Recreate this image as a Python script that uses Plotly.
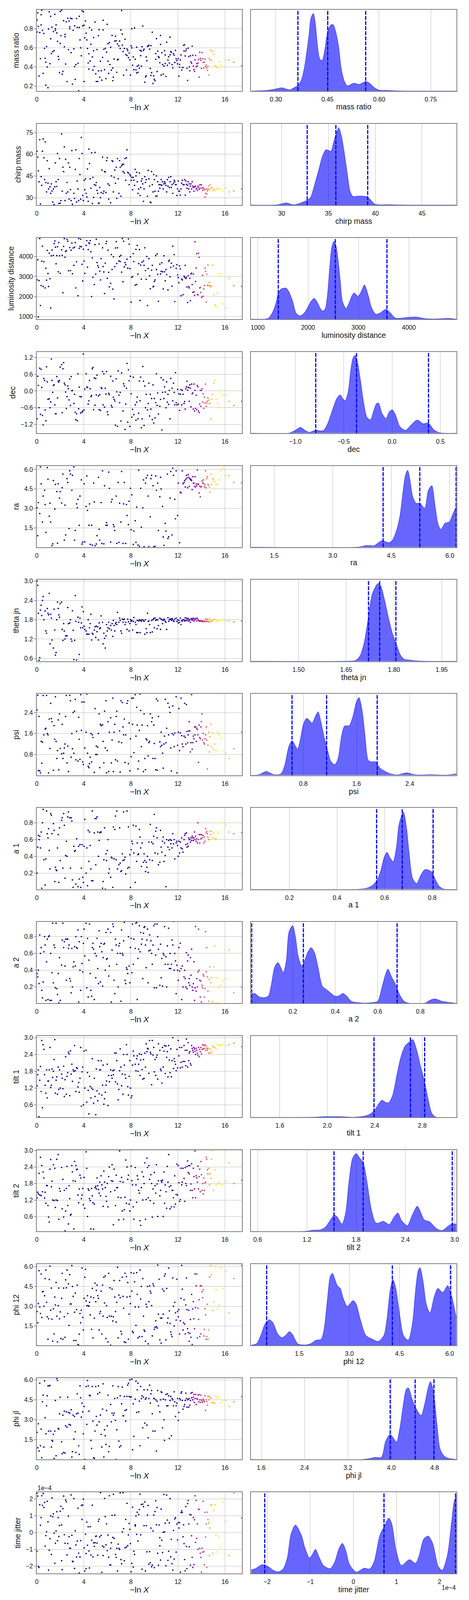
import plotly.graph_objects as go

# ---------- shared -ln X of the samples ----------
x_body = [
 0.02,0.08,0.13,0.19,0.25,0.31,0.37,0.42,0.48,0.54,0.60,0.66,0.71,0.77,0.83,0.89,0.95,
 1.00,1.06,1.12,1.18,1.24,1.29,1.35,1.41,1.47,1.53,1.58,1.64,1.70,1.76,1.82,1.87,1.93,1.99,
 2.05,2.11,2.16,2.22,2.28,2.34,2.40,2.45,2.51,2.57,2.63,2.69,2.74,2.80,2.86,2.92,2.98,
 3.03,3.09,3.15,3.21,3.27,3.32,3.38,3.44,3.50,3.56,3.61,3.67,3.73,3.79,3.85,3.90,3.96,
 4.02,4.08,4.14,4.19,4.25,4.31,4.37,4.43,4.48,4.54,4.60,4.66,4.72,4.77,4.83,4.89,4.95,
 5.01,5.06,5.12,5.18,5.24,5.30,5.35,5.41,5.47,5.53,5.59,5.64,5.70,5.76,5.82,5.88,5.93,5.99,
 6.05,6.11,6.17,6.22,6.28,6.34,6.40,6.46,6.51,6.57,6.63,6.69,6.75,6.80,6.86,6.92,6.98,
 7.04,7.09,7.15,7.21,7.27,7.33,7.38,7.44,7.50,7.56,7.62,7.67,7.73,7.79,7.85,7.91,7.96,
 8.02,8.08,8.14,8.20,8.25,8.31,8.37,8.43,8.49,8.54,8.60,8.66,8.72,8.78,8.83,8.89,8.95,
 9.01,9.07,9.12,9.18,9.24,9.30,9.36,9.41,9.47,9.53,9.59,9.65,9.70,9.76,9.82,9.88,9.94,9.99,
 10.05,10.11,10.17,10.23,10.28,10.34,10.40,10.46,10.52,10.57,10.63,10.69,10.75,10.81,10.86,10.92,10.98,
 11.04,11.10,11.15,11.21,11.27,11.33,11.39,11.44,11.50,11.56,11.62,11.68,11.73,11.79,11.85,11.91,11.97,
 12.03,12.08,12.14,12.20,12.26,12.32,12.37,12.43,12.48]
x_tail = [
 12.52,12.57,12.62,12.67,12.72,12.77,12.82,12.87,12.92,12.96,
 13.01,13.06,13.11,13.16,13.21,13.26,13.31,13.36,13.41,13.45,
 13.50,13.55,13.60,13.65,13.70,13.75,13.80,13.85,13.90,13.95,
 14.00,14.05,14.10,14.15,14.20,14.25,14.30,14.35,14.40,14.45,14.50,14.55,
 14.61,14.67,14.72,14.80,14.86,14.95,
 15.04,15.14,15.24,15.37,15.49,15.65,15.83,
 16.06,16.35,16.75,17.42]
shade_tail = [
 .08,.08,.09,.09,.10,.10,.11,.11,.12,.12,
 .14,.15,.16,.17,.18,.20,.22,.24,.26,.27,
 .29,.30,.31,.33,.34,.35,.36,.38,.39,.40,
 .42,.44,.46,.48,.50,.52,.54,.56,.58,.60,.62,.64,
 .74,.76,.78,.82,.84,.86,
 .90,.92,.94,.97,.98,1.0,1.0,
 .95,.84,.70,.55]

# ---------- trace values, one list per parameter ----------
mass_ratio_body = [
 .765,.89,.967,.824,.305,.76,.487,.946,.84,.993,.783,.333,.75,.595,.49,.21,.45,.614,
 .40,.183,.796,.977,.434,.93,.695,.54,.816,.56,.77,.57,.95,.80,.783,.84,.756,.668,.51,.478,
 .34,.647,.98,.727,.993,.324,.353,.884,.611,.716,.741,.43,.873,.247,.91,.58,.88,.82,.80,
 .91,.55,.904,.22,.783,.59,.404,.83,.27,.424,.906,.813,.438,.15,.93,.813,.683,.6,.517,
 .987,.83,.977,.248,.836,.705,.882,.753,.683,.593,.442,.378,.538,.812,.462,.638,.787,.505,
 .368,.708,.569,.406,.87,.328,.248,.582,.248,.727,.359,.79,.292,.46,.361,.262,.50,.787,
 .888,.585,.372,.595,.278,.555,.846,.644,.46,.332,.655,.425,.606,.367,.73,.256,.388,.292,
 .482,.671,.722,.673,.344,.474,.64,.48,.62,.67,.593,.787,.99,.628,.744,.562,.313,.593,.69,
 .53,.369,.52,.588,.572,.498,.546,.474,.315,.62,.6,.80,.418,.505,.372,.808,.48,.37,.337,
 .607,.408,.344,.418,.386,.573,.518,.566,.408,.612,.828,.573,.586,.24,.295,.307,.505,.465,
 .615,.618,.627,.586,.384,.622,.312,.34,.763,.227,.307,.27,.256,.48,.54,.696,.352,.565,
 .509,.498,.445,.73,.636,.315,.549,.425,.325,.409,.57,.437,.525,.301,.659,.417,.472,.507,
 .441,.527,.711,.56,.554,.424,.39,.54,.523,.447,.447,.573,.486,.467,.432,.487,.304,.426,.397,.473,.525,.369,.394,.394,.627]
mass_ratio_tail = [
 .567,.632,.515,.567,.587,.385,.259,.597,.509,.402,
 .361,.517,.453,.438,.617,.522,.41,.373,.353,.473,
 .52,.402,.434,.41,.441,.477,.293,.554,.49,.47,
 .385,.55,.486,.447,.389,.452,.481,.404,.42,.389,.364,.406,
 .317,.49,.473,.577,.469,.562,
 .53,.414,.41,.39,.454,.418,.40,
 .472,.474,.45,.412]
chirp_mass_body = [
 62,58,48.5,41,70,25.7,44.5,38.5,62,70.5,57.5,42.5,68.5,40.5,34,55.5,40,36,50,
 37.5,33,39.5,34.6,27,36,25.3,37.5,54,41,37.8,60.5,42.5,26,57,26.2,28,74,
 34.5,51,48,65,28,56.5,33,40.5,34,54,29,51,35.5,28,62.5,25.5,33,29.5,
 49.5,63,27,41.5,36,28,57,46,29,71.5,60.5,31.5,28,42,35.5,43,33,
 30.5,49.8,27.5,63.5,53.5,43,36.5,61,26,44,30.2,39,61.2,38.5,40.5,35,33,
 26.2,26.2,37,30,33.5,49,58,33,34.5,48,47.8,33.5,55.5,57.5,39.5,29,38.5,26.5,45,55.5,55,34,44,
 49,40,51,29.5,57,43,33,55.5,51,31,52,53,48,53,47,57,42,57.5,63,
 47.5,47,39,46,45,42,44,35.5,44,42,38.5,49.5,45,47.5,41,33,36,
 47,31.5,37,41.5,43,39.5,27.5,36,44.5,40.5,42.5,31,48.8,43,38,27,26.5,48,
 39,34,46,42.5,34.5,31,45,31.2,41,34.5,39,36.5,39,42.5,38.5,41,36,
 39.5,41,40,38.5,34,42.5,38,44,37,41,44.5,37,39,33,40,42,41,
 39,39,31.5,36,41.5,34.5,34.5,31.8,36,40,42,39]
chirp_mass_tail = [
 39,42.5,31.7,41.5,39.2,36.5,38.5,41,36,39.5,
 34,38,39.5,36,41,38,37,34.5,37.5,38,
 37.8,36,36.5,35,38,37,35.8,38.8,36.5,39,
 38.8,36.6,35,37,36,35.5,30.5,33,36,32.5,34.8,36,
 38,35.5,39,36.5,37,35,
 36,35,36.3,35.7,36.5,35.7,34.5,
 36.7,34,34.7,36]
luminosity_distance_body = [
 2840,3840,980,2800,4900,1550,2550,3770,4520,2500,3740,2430,
 3410,2820,4310,3150,2500,4170,2890,1430,4040,4330,4060,4650,
 4780,4470,3640,4050,4490,3240,4700,4040,3160,4340,4060,2190,
 4510,4900,3970,4250,4300,4860,4770,3290,4450,3300,4320,4670,
 3140,4430,3560,4470,4700,2430,3740,2040,4900,4410,4510,4870,
 4490,3610,2780,4370,3770,3160,4560,4800,3470,4350,4690,4650,
 4800,4240,2000,3940,2960,2600,4600,3120,4870,3700,3550,3460,
 4630,3270,2830,3900,4440,3500,3230,2150,3670,4650,4760,2910,
 4320,3210,2480,2660,4100,3350,2370,3990,1880,3500,4430,4750,
 3650,4440,3780,4000,3750,4060,3220,4900,2740,4770,3480,3700,
 3590,3870,3420,4880,4620,3400,3990,1720,2960,3000,4150,3750,
 2570,4360,2600,4560,3120,3650,4350,1800,3570,2870,3720,3780,
 3560,4440,3300,2860,4000,1550,3400,3900,3040,2390,3320,3560,
 2490,2510,2750,2830,4050,3350,4130,3110,1760,3620,3130,3260,
 3690,3240,2380,4040,3240,2790,3350,3100,2330,3760,3820,2990,
 3460,3670,2520,4520,3530,4100,1750,3410,3590,3080,2950,2690,
 3530,3380,2040,2880,2830,2090]
luminosity_distance_tail = [
 3020,2960,3560,2900,2960,2470,1700,3040,2500,2430,
 2910,1790,3130,3170,2600,2210,3120,2230,2060,4740,
 2750,3430,4140,2100,2080,4170,3960,2430,2450,2200,
 1960,1970,3060,2010,2380,2550,3430,3260,1720,3110,2560,3570,
 2550,2700,2550,2480,2520,3570,
 2090,1580,1510,2170,3140,3140,1640,
 1410,2910,2540,2520]
dec_body = [
 -1.0,.53,.2,-.6,.82,-.84,.78,.13,-.88,-1.22,.45,.38,
 -.68,-1.07,.87,.33,-.3,-.28,-.6,-.39,1.15,.38,-.05,.2,
 .22,-.5,-.82,-.82,.52,-.25,.35,.32,.38,.86,.95,-.78,
 .8,1.02,.28,.22,-.04,-.63,-.2,.18,.08,-.32,.43,-.52,
 .52,.01,.02,-.45,-.12,-.76,-1.03,-.82,-1.07,.62,-.64,.14,
 -.2,-.79,-.21,-.76,-.72,1.33,-.68,.07,.62,.14,.13,-.47,
 -.35,.38,.08,-.2,-.16,.8,.85,-.67,.47,-.51,.45,-.14,
 .57,-.18,-.67,-.13,-.7,.12,.09,.7,-.5,.62,-.58,.1,
 -.11,.7,-.75,-.85,-.08,-.13,.53,-.52,-.58,.36,-.22,-.3,
 -.36,-1.23,.44,-.03,-1.27,.72,-.15,-.42,-.05,-1.08,.65,-.72,
 .26,.18,-1.38,-.47,.1,.99,-1.12,.76,.37,-1.27,.53,-.1,
 -.94,-.66,.5,-.85,-.5,-1.05,-.4,-.22,-1.0,-.8,.36,-.35,
 .5,-1.32,-1.0,.88,.35,-1.24,.18,-.6,-.12,-.68,-.45,.28,
 -.9,-.12,-.65,-.27,-1.03,.22,-1.15,-.27,-.97,-.42,.62,-.52,
 -.07,-.83,-.55,-.3,.48,-1.4,-.05,.4,-.27,.15,-.04,-.6,
 .33,-.4,-.12,-.48,.02,-1.0,.45,.1,-.35,.28,-.05,-.5,
 .66,-.42,-.5,.06,-.47,-.1,-.7,-.12,.05,-.5,.02,-.12]
dec_tail = [
 -.45,-.38,-.65,.08,.15,.35,.03,.13,.12,-.37,
 .22,.1,-.57,.25,-.1,-.07,-.65,.25,-.72,.02,
 -.63,-.15,-.67,.2,.15,-.72,-.78,-.47,.02,-.55,
 .02,.08,-.4,-.1,-.63,-.22,-.43,.25,-.55,-.43,-.37,-.25,
 -.33,-.45,-.45,-1.0,-.3,-.12,
 .28,.38,-.3,-.43,-.6,.0,-.15,
 -.15,-.38,-.52,-.37]
ra_body = [
 3.05,.9,3.45,2.6,6.2,4.9,1.95,3.95,4.4,3.3,1.15,6.15,
 5.25,2.4,3.4,1.95,.12,.27,5.15,2.95,4.85,4.3,.32,4.9,
 3.8,4.3,3.42,4.6,5.65,.55,3.25,.95,5.3,5.0,1.45,5.9,
 5.65,4.4,5.55,6.2,.55,1.3,3.35,3.05,3.7,1.7,3.95,5.2,
 .25,.4,4.9,.42,3.15,5.5,2.85,1.7,3.35,.22,1.7,.17,
 4.95,3.5,.12,.25,.9,5.4,1.4,.55,3.45,.3,5.9,.27,
 4.75,1.7,1.9,1.7,5.8,4.55,.4,3.5,3.7,1.75,1.6,1.3,
 3.95,.3,5.0,.38,3.4,1.95,5.85,.3,3.35,5.0,.3,3.3,
 2.45,1.75,3.55,4.55,1.35,4.05,.22,1.25,2.05,.38,3.1,.18,
 5.95,.08,4.55,1.55,3.05,5.2,.05,4.95,5.35,5.55,3.95,.06,
 2.35,5.3,5.55,4.75,.05,.07,5.5,4.4,4.95,1.3,3.9,5.4,
 4.5,3.15,.8,.15,1.85,1.25,5.65,.68,.82,3.8,5.85,.95,
 6.1,5.55,3.7,2.2,5.9,2.45,4.95,.35,4.25,4.2,5.9,4.9]
ra_tail = [
 5.0,5.15,4.65,5.25,5.55,5.35,4.6,5.6,5.4,4.7,
 5.3,5.2,5.25,5.15,4.45,5.45,4.95,4.95,4.7,5.45,
 4.65,4.88,4.75,5.97,4.9,4.85,4.2,4.7,3.9,4.65,
 4.7,5.1,4.95,5.2,4.92,4.65,4.8,5.9,4.6,5.3,5.45,4.85,
 4.8,4.65,4.25,5.65,4.85,5.3,
 5.2,5.05,4.85,4.85,5.2,5.9,6.15,
 5.55,5.5,5.0,4.98]
theta_jn_body = [
 3.0,2.87,2.0,.54,.62,2.1,2.25,1.93,2.4,2.52,1.8,2.07,
 1.45,1.38,2.15,2.0,1.95,2.62,1.05,1.97,1.85,1.17,.92,2.13,
 1.48,.7,.78,1.8,2.35,2.15,1.95,1.88,2.3,2.35,1.5,1.16,
 1.68,1.45,1.2,1.3,1.3,1.3,2.18,1.68,1.7,1.8,1.2,1.13,
 2.08,1.47,.56,1.16,2.55,1.75,.55,1.88,1.72,.72,1.85,1.55,
 1.7,2.2,1.55,2.05,1.6,1.5,1.45,1.35,1.35,1.8,1.35,1.55,
 1.68,1.97,1.17,1.38,1.35,1.48,1.58,1.25,1.6,1.43,1.58,1.17,
 1.7,1.52,1.55,1.92,1.72,1.05,1.38,1.22,.92,1.3,1.65,1.45,
 1.55,1.72,1.52,1.62,1.48,1.68,1.28,1.78,1.62,1.45,1.68,1.72,
 1.65,2.03,1.72,1.85,1.78,1.45,1.38,1.82,1.72,1.8,1.82,1.65,
 1.72,1.5,1.82,1.74,1.45,1.68,1.8,1.75,1.78,1.48,1.75,1.87,
 1.72,1.65,1.4,1.78,1.4,1.76,1.8,1.4,1.78,1.75,1.8,1.78,
 1.75,1.35,1.8,1.52,1.4,2.0,1.75,1.76,1.65,1.4,1.78,1.42,
 1.8,1.84,1.55,1.85,1.78,1.8,1.52,1.8,1.62,1.85,1.5,1.82,
 1.8,1.68,1.78,1.82,1.8,1.75,1.72,1.5,1.86,1.75,1.8,1.82,
 1.82,1.78,1.84,1.8,1.76,1.75,1.82,1.85,1.75,1.8,1.7,1.78,
 1.72,1.85,1.65,1.78,1.75,1.8]
theta_jn_tail = [
 1.8,1.76,1.86,1.78,1.85,1.77,1.82,1.84,1.76,1.8,
 1.79,1.72,1.82,1.84,1.78,1.82,1.85,1.76,1.8,1.83,
 1.82,1.84,1.76,1.85,1.8,1.78,1.76,1.75,1.77,1.76,
 1.75,1.76,1.74,1.76,1.75,1.74,1.75,1.82,1.76,1.74,1.82,1.75,
 1.73,1.82,1.74,1.75,1.76,1.78,
 1.8,1.82,1.75,1.78,1.75,1.79,1.78,
 1.78,1.77,1.73,1.76]
psi_body = [
 2.5,3.06,.19,2.25,.18,.1,1.3,.47,1.27,3.05,1.55,1.77,
 1.8,3.05,1.6,1.55,.1,2.15,1.03,2.75,2.17,2.05,.2,1.9,
 1.38,3.0,1.3,.65,.95,2.12,.22,2.35,1.03,.83,1.95,.65,
 .85,1.05,1.2,2.25,3.05,.48,1.12,.15,3.06,2.85,.7,1.6,
 1.02,2.4,.85,2.45,2.9,.6,1.68,.55,2.22,1.38,.62,3.08,
 1.72,2.8,.52,.42,2.8,1.05,1.65,3.1,.85,.35,.3,.45,
 .7,1.6,.52,1.55,1.45,.12,2.55,.8,1.12,.8,1.08,1.6,
 2.35,.3,1.95,1.9,1.93,1.3,.48,2.45,1.05,2.85,.1,.95,
 2.05,.15,1.65,2.2,.48,1.35,2.95,.15,1.65,1.95,.6,2.25,
 2.45,.55,1.28,1.7,.13,2.85,1.25,2.78,1.85,1.55,2.15,.5,
 1.55,2.75,2.85,.45,2.0,.18,1.4,.72,2.95,1.95,2.95,.87,
 3.08,1.5,2.6,1.92,.25,.55,1.72,3.1,2.48,1.1,1.92,.15,
 2.35,.65,.22,1.4,1.35,1.9,.75,1.25,1.3,2.35,2.05,2.2,
 .65,1.92,1.22,.65,.22,2.92,.2,2.85,2.25,1.28,1.1,1.65,
 1.15,.85,.28,1.2,1.5,2.9,1.25,1.8,2.75,1.55,2.6,2.4,
 1.05,.17,1.6,2.65,1.55,1.1,1.62,3.0,.1,1.15,1.65,2.55,
 .95,1.62,2.95,1.52,1.2,1.1]
psi_tail = [
 1.5,2.75,1.45,1.2,2.7,1.68,1.25,1.55,1.7,2.05,
 1.7,.9,1.25,3.08,1.0,1.25,1.5,1.4,1.85,1.55,
 1.85,1.3,1.8,1.75,1.55,.5,1.92,1.45,1.4,1.85,
 2.05,2.35,1.35,1.6,1.25,1.2,1.4,1.55,1.85,1.35,.25,1.15,
 1.65,.9,1.48,1.95,1.1,1.62,
 1.0,1.2,.95,1.65,1.55,1.42,.9,
 .85,.65,1.02,1.65]
a_1_body = [
 .2,.51,.65,.6,.64,.5,.69,.02,.8,.96,.36,.06,
 .37,.94,.67,.62,.73,.47,.25,.91,.89,.67,.79,.71,
 .1,.27,.24,.23,.5,.66,.09,.74,.35,.83,.86,.26,
 .91,.77,.14,.41,.58,.4,.87,.93,.86,.26,.86,.82,
 .12,.03,.52,.46,.47,.07,.61,.04,.52,.13,.54,.03,
 .26,.54,.15,.09,.52,.84,.2,.5,.05,.71,.34,.69,
 .53,.25,.11,.94,.11,.68,.85,.3,.85,.87,.69,.4,
 .59,.68,.69,.69,.02,.1,.36,.74,.01,.43,.35,.47,
 .6,.2,.25,.15,.39,.38,.03,.75,.37,.72,.88,.36,
 .94,.25,.3,.74,.32,.22,.23,.43,.35,.93,.36,.39,
 .19,.94,.26,.75,.27,.42,.03,.48,.58,.55,.77,.44,
 .09,.76,.34,.56,.42,.43,.72,.63,.5,.28,.56,.33,
 .43,.35,.22,.33,.27,.4,.21,.57,.36,.78,.57,.35,
 .55,.64,.9,.44,.7,.74,.62,.43,.3,.33,.71,.51,
 .45,.58,.63,.34,.56,.41,.04,.6,.51,.59,.48,.6,
 .55,.59,.5,.67,.55,.6,.37,.56,.58,.53,.4,.58,
 .44,.57,.5,.62,.49,.45]
a_1_tail = [
 .6,.65,.67,.54,.68,.51,.55,.52,.62,.6,
 .6,.57,.62,.59,.64,.62,.59,.62,.69,.6,
 .64,.58,.61,.56,.8,.6,.66,.56,.66,.61,
 .66,.62,.65,.65,.56,.63,.58,.73,.68,.7,.67,.63,
 .6,.6,.7,.66,.7,.62,
 .68,.61,.61,.67,.69,.8,.8,
 .77,.69,.67,.68]
a_2_body = [
 .36,.32,.4,.24,.82,.6,.67,.16,.07,.26,.62,.8,
 .7,.04,.5,.77,.05,.8,.81,.04,.6,.04,.37,.96,
 .25,.7,.67,.19,.96,.18,.11,.36,.01,.55,.04,.46,
 .76,.96,.67,.74,.45,.77,.28,.77,.77,.66,.7,.3,
 .27,.13,.66,.2,.44,.5,.68,.45,.8,.67,.66,.88,
 .02,.74,.4,.16,.8,.48,.38,.72,.89,.57,.96,.19,
 .78,.08,.52,.95,.36,.16,.09,.67,.72,.65,.05,.6,
 .31,.57,.78,.42,.24,.87,.68,.26,.72,.62,.21,.55,
 .71,.72,.4,.85,.53,.54,.89,.33,.45,.85,.02,.64,
 .95,.92,.28,.12,.77,.7,.47,.6,.2,.69,.72,.6,
 .03,.88,.6,.58,.75,.97,.28,.24,.43,.41,.36,.8,
 .45,.25,.67,.78,.37,.95,.47,.77,.66,.96,.97,.05,
 .54,.65,.93,.62,.85,.71,.77,.3,.84,.91,.92,.7,
 .43,.76,.89,.25,.63,.82,.64,.75,.6,.47,.7,.93,
 .19,.95,.58,.19,.95,.8,.65,.22,.71,.31,.54,.21,
 .6,.58,.92,.47,.56,.2,.69,.47,.9,.42,.6,.42,
 .47,.76,.7,.98,.4,.6,.51,.12,.46,.4,.28,.67,
 .39,.72,.42,.05,.45,.2]
a_2_tail = [
 .32,.4,.3,.2,.61,.18,.51,.58,.25,.3,
 .22,.55,.34,.65,.2,.16,.24,.5,.04,.19,
 .92,.15,.3,.2,.38,.89,.4,.28,.08,.27,
 .02,.22,.19,.35,.33,.08,.18,.86,.38,.67,.32,.15,
 .03,.29,.44,.25,.31,.02,
 .44,.69,.31,.01,.19,.22,.27,
 .3,.64,.13,.2]
tilt_1_body = [
 1.28,1.68,1.85,.18,1.48,1.97,1.08,2.9,.5,2.75,2.58,1.68,
 1.3,1.02,1.85,.85,1.45,1.45,1.85,2.65,1.22,1.3,1.88,1.58,
 1.8,2.22,2.93,1.02,1.48,1.6,.98,1.95,1.15,1.85,1.2,1.7,
 1.55,1.18,1.98,.9,1.5,2.32,.98,1.62,1.75,2.48,2.42,.93,
 2.53,1.7,2.05,1.44,1.85,1.8,2.72,1.82,1.08,1.93,1.9,1.24,
 1.4,1.05,1.55,2.65,.55,1.78,1.95,.6,2.52,1.2,2.55,.7,
 1.75,1.12,.28,1.62,1.26,.85,1.2,2.25,1.15,.66,1.55,.9,
 .25,1.88,1.1,.75,2.18,1.0,1.85,1.85,2.18,.95,1.3,2.02,
 .62,.82,1.05,1.3,1.45,2.05,.58,1.65,1.43,1.85,1.65,1.55,
 1.82,1.68,1.85,2.45,1.42,2.45,2.18,1.35,.78,1.15,1.82,2.6,
 1.95,1.28,1.7,.98,2.4,2.02,1.68,1.55,2.75,2.4,1.25,.95,
 1.62,2.18,1.2,.85,.92,2.02,2.52,2.35,2.05,1.82,2.25,2.35,
 1.8,2.05,2.42,1.65,2.2,2.4,1.86,1.52,2.22,1.55,2.45,1.95,
 2.78,2.5,2.62,2.6,1.73,2.9,2.48,2.42,1.32,2.9,2.38,2.65,
 1.78,2.22,1.65,2.3,2.38,1.52,2.78,2.55,1.88,1.82,1.38,2.65,
 1.95,2.52,2.72,1.72,2.7,2.3,2.5,1.6,2.72,2.2,1.75,2.6,
 1.6,2.18,3.0,1.9,2.25,2.15,2.05,1.82,2.58,1.92,2.9,2.35,
 2.65,1.92,2.12,2.65,1.95,2.15]
tilt_1_tail = [
 2.72,2.15,2.55,2.0,2.95,2.55,1.95,2.82,2.18,2.45,
 2.5,2.08,2.02,2.72,2.62,2.55,2.48,2.65,2.6,2.52,
 2.4,2.62,2.55,2.45,2.38,2.65,2.32,2.58,2.5,2.65,
 2.42,2.58,2.75,2.6,2.72,2.62,2.75,2.55,2.7,2.62,2.55,2.62,
 2.45,2.45,2.6,2.45,2.5,2.7,
 2.65,2.65,2.6,2.75,2.72,2.72,2.75,
 2.72,2.75,2.8,2.68]
tilt_2_body = [
 1.28,1.48,1.42,2.17,1.38,2.75,1.36,2.45,1.5,2.22,2.0,1.27,
 1.48,1.08,1.73,1.72,1.0,.58,.4,2.32,2.67,1.68,1.88,1.2,
 2.48,1.18,2.35,.93,1.2,2.68,1.18,2.85,.5,1.62,1.52,2.38,
 .88,1.95,.58,1.55,.08,.8,1.62,2.42,1.0,.33,1.72,1.25,
 .65,.68,2.45,2.22,1.9,.15,2.6,1.88,2.45,2.3,2.32,1.38,
 1.1,1.6,2.1,2.0,1.25,1.38,1.62,1.03,2.02,.9,2.95,2.35,
 .6,1.6,1.55,1.25,1.18,.15,1.62,1.35,1.1,.14,1.05,1.65,
 1.7,1.6,2.0,1.72,1.58,1.45,1.85,1.35,2.08,1.75,1.6,.97,
 2.25,1.85,1.65,1.33,1.15,1.8,.95,2.05,2.4,1.5,1.9,2.48,
 1.88,.3,2.32,1.55,1.0,2.1,1.65,1.65,1.3,.48,2.98,1.87,
 1.28,2.02,.8,1.85,.5,.85,1.3,2.65,1.08,2.4,1.95,2.1,
 1.05,.8,1.2,2.43,1.9,1.75,.95,.5,2.38,1.75,1.12,2.08,
 1.95,1.55,1.45,.45,.28,1.65,2.22,1.2,2.05,1.8,2.55,.5,
 1.22,2.72,2.38,1.28,2.45,1.95,1.18,2.12,1.8,.58,1.6,1.08,
 2.2,1.72,1.45,2.48,1.78,.6,1.9,1.35,1.55,1.9,1.85,1.92,
 .6,2.22,1.08,1.75,1.5,.9,2.42,1.85,2.85,1.68,.88,1.72,
 .95,1.55,1.55,1.28,.95,2.08,1.05,1.4,2.5,1.38,2.45,1.83,
 1.15,1.22,2.35,1.75,1.85,2.35]
tilt_2_tail = [
 1.98,1.15,2.38,1.8,1.72,2.42,2.62,2.2,2.45,2.15,
 2.45,1.55,1.78,2.52,1.55,1.28,2.35,2.05,1.6,2.98,
 1.28,2.08,2.0,1.85,2.43,1.6,2.05,2.32,1.5,2.6,
 2.12,1.55,1.8,1.42,2.0,1.55,1.82,1.85,2.75,2.68,2.3,2.15,
 2.35,1.75,2.15,1.98,2.68,3.0,
 1.55,2.3,1.75,1.8,1.85,1.75,1.75,
 1.88,2.55,1.8,1.92]
phi_12_body = [
 2.6,1.75,3.2,5.7,2.95,2.45,5.45,2.15,4.1,4.12,3.0,3.8,
 5.1,5.75,3.3,2.2,.5,2.05,5.03,6.05,2.7,4.38,2.02,.35,
 2.8,.9,3.7,3.1,4.8,2.25,.3,3.05,4.38,2.05,2.57,.55,
 3.6,5.5,.5,4.38,2.2,.65,5.0,4.4,5.75,2.45,4.7,1.55,
 5.4,3.17,3.17,6.08,4.5,3.75,.4,2.55,4.0,.4,2.75,4.6,
 .1,.05,.88,2.45,1.75,2.7,5.9,2.15,1.2,3.6,5.2,5.8,
 3.4,3.05,3.8,3.05,3.0,3.3,2.35,3.7,1.25,4.35,.6,3.65,
 2.1,4.75,3.35,4.2,4.6,3.8,3.6,1.2,2.45,2.6,4.15,.9,
 4.6,2.25,5.2,3.25,5.3,.55,3.05,2.15,.3,5.5,2.25,4.4,
 .05,2.25,4.3,1.88,2.2,4.95,3.7,2.6,1.8,3.3,5.95,.6,
 3.85,4.95,3.65,1.1,.9,5.2,3.75,2.85,.3,5.5,.25,5.25,
 3.7,4.8,.5,2.4,3.75,3.2,5.55,4.15,1.1,1.0,5.5,4.85,
 2.95,1.55,5.55,3.9,.6,2.95,.7,5.75,3.55,4.5,.7,5.1,
 2.25,1.2,1.1,.35,3.15,2.95,4.5,.15,3.35,4.55,4.15,4.0,
 3.05,.75,4.7,4.55,1.25,1.4,1.9,1.45,1.35,6.12,2.4,5.05,
 .45,2.1,.2,2.1,4.3,2.4,4.15,5.3,5.45,.45,4.35,1.75,
 2.1,5.9,2.65,1.7,1.05,.85,.7,5.15,3.0,1.5,3.3,2.5,
 1.95,5.05,2.6,2.2,2.75,.9,1.9,3.6,6.1,4.3,1.2,1.75]
phi_12_tail = [
 3.5,1.65,.9,3.1,5.15,2.75,1.3,1.0,2.7,.35,
 .95,2.0,.65,3.9,.1,2.8,3.35,2.05,1.3,5.45,
 2.9,4.55,5.45,.6,2.85,2.0,3.5,.7,4.55,.9,
 4.55,4.1,3.65,4.25,.75,1.25,2.8,2.35,.5,.7,3.15,.5,
 1.2,5.25,5.2,6.1,5.4,2.7,
 3.3,6.02,4.25,2.8,3.1,5.9,4.35,
 5.65,2.5,5.1,6.1]
phi_jl_body = [
 2.05,.9,2.7,.65,5.75,1.05,2.3,.15,4.35,4.85,.95,5.92,
 3.15,1.95,4.05,4.8,5.55,2.15,5.55,5.58,2.15,.95,1.45,1.4,
 1.9,.1,2.15,4.45,.3,6.1,5.95,2.35,2.3,3.45,4.7,1.35,
 .45,3.35,.55,3.65,.5,2.55,3.6,2.45,4.7,3.55,2.65,3.5,
 2.6,3.75,.2,.6,3.35,1.55,3.25,2.1,.55,3.45,4.95,3.5,
 1.05,.4,5.55,4.65,3.2,4.25,3.6,1.95,4.0,.02,5.5,2.65,
 5.95,5.55,3.65,4.85,4.8,1.45,.85,5.5,2.9,.15,.1,2.15,
 5.5,3.25,2.6,4.95,5.55,2.85,5.05,3.35,1.9,.95,3.8,5.7,
 .2,2.25,1.8,1.15,3.7,2.55,4.85,.6,1.0,4.15,2.85,3.5,
 5.55,3.35,3.5,4.6,2.95,.02,2.25,4.65,5.5,1.4,.95,4.8,
 1.05,4.2,5.45,3.3,3.3,4.75,3.7,2.9,3.75,4.75,5.6,5.75,
 4.75,6.0,4.7,4.72,6.05,.75,4.2,1.75,4.55,5.9,3.55,5.25,
 5.75,3.6,4.4,1.05,5.5,4.6,4.8,2.4,4.7,5.25,2.75,4.55,
 4.65,2.6,5.25,1.65,4.6,5.6,4.25,4.95,5.2,3.45,2.15,4.6,
 4.6,2.15,4.5,.65,4.4,5.2,4.05,3.6,4.5,5.1,5.05,2.4,
 4.55,3.0,1.45,4.5,4.9,4.05,4.95,4.05,4.8,1.6,4.45,4.75,
 1.8,4.6,4.5,4.05,5.1,4.35,3.25,4.05,4.25,4.6,2.95,3.55,
 4.6,4.5,5.0,5.1,4.45,3.8]
phi_jl_tail = [
 4.0,4.15,4.45,5.0,4.6,3.95,4.5,4.55,3.95,4.6,
 4.1,4.45,5.0,4.65,5.05,4.5,4.7,4.9,4.3,4.6,
 4.9,4.15,4.6,4.55,4.85,4.35,4.9,4.5,4.3,4.85,
 4.5,4.4,4.3,4.55,4.45,4.35,4.8,3.7,4.5,4.35,4.1,4.75,
 4.5,4.78,4.6,4.7,4.3,4.28,
 4.25,4.25,4.75,4.6,4.72,4.3,4.45,
 4.45,4.0,4.35,4.75]
time_jitter_body = [
 2.35,-1.1,2.18,-2.0,-2.07,1.67,.44,.9,2.2,1.63,2.33,1.5,
 1.8,-.8,-.17,.06,1.87,.65,-2.23,-1.04,-.36,1.0,-1.3,2.07,
 .95,1.12,-.03,-1.82,-.63,.1,1.25,-.48,.9,-.23,.43,1.28,
 1.57,-1.67,.46,-2.2,1.43,2.18,-.12,-.63,1.94,1.84,-1.32,-.65,
 .99,-.24,-.92,-.93,2.25,-.15,-1.7,-1.73,2.03,-2.13,.11,-.73,
 -1.45,-.5,1.46,-1.22,-2.4,-1.45,-.47,1.62,.79,1.65,2.0,-.9,
 -2.28,-.09,-1.24,-2.14,.63,-.75,.35,-1.09,-2.1,.36,-1.33,-.45,
 1.64,-1.44,-.6,-.82,-.6,-.22,-.2,-.62,-1.34,.68,.8,-.25,
 2.38,-.16,-2.36,-.8,-1.36,-.86,2.04,.96,-.72,.53,-1.07,-.14,
 -1.46,2.2,-1.92,-1.92,-.93,-.6,1.03,-.28,2.29,-.34,1.05,-1.3,
 -1.47,-.93,-2.28,-.68,-.93,-1.0,2.37,-1.6,-1.85,.05,2.38,.24,
 -1.67,-.9,.79,-.85,1.75,-.77,-.13,.55,.2,-.65,-2.33,-1.83,
 1.52,-2.05,-1.1,-1.3,.47,.4,1.0,-.1,1.22,-.5,1.08,1.38,
 2.3,-.13,1.68,-2.17,1.7,1.55,.42,1.83,-2.28,.42,-1.14,1.05,
 1.62,-1.88,-1.13,-1.79,.27,-2.03,-1.93,.1,1.05,-2.08,1.26,1.9,
 .47,1.5,-1.23,-1.94,.46,-.78,-.3,-1.63,1.4,-.45,-1.18,.02,
 2.28,.05,.57,-1.97,2.24,.75,-1.65,-1.1,.58,2.03,-1.44,-.4,
 -1.85,-2.23,.13,-1.57,.82,.9,-1.16,.51,-.43,.6,.28,.6,
 -2.35,1.2,1.3,1.2,-.24,.47]
time_jitter_tail = [
 -.65,-1.6,-2.27,1.55,-.82,-2.14,1.73,1.92,.52,-.84,
 1.08,-1.93,1.07,-.18,-1.47,-2.07,.9,-1.9,.77,2.2,
 -.58,1.92,-.33,.52,-1.0,1.4,1.39,-.93,-1.22,-1.47,
 -2.35,-.92,-1.16,1.87,-1.13,-1.9,1.21,-.26,.52,-2.07,1.22,.78,
 .58,-1.37,.28,1.65,1.66,-1.22,
 1.33,1.67,-.16,-1.15,-.28,-.85,1.82,
 .68,-1.36,2.35,.87]

# ---------- marginal density curves, one pair of lists per parameter ----------
mass_ratio_kx = [.228,.273,.30,.317,.329,.34,.35,.364,.374,.383,.389,.396,.402,.409,.415,.421,.428,.434,.441,.449,.458,.466,.473,.482,.490,.499,.508,.514,.527,.542,.561,.572,.585,.600,.626,.652,.8245]
mass_ratio_ky = [0,.008,.025,.04,.026,.014,.034,.07,.135,.29,.46,.68,.90,.953,.82,.556,.39,.374,.478,.696,.805,.818,.743,.556,.276,.12,.062,.073,.095,.081,.117,.097,.045,.011,.008,.002,0]
chirp_mass_kx = [26.74,29.58,30,30.49,30.94,31.4,32,32.73,33.07,33.52,33.98,34.36,34.73,35.04,35.27,35.57,35.8,36.1,36.4,36.71,37.01,37.31,37.62,38.07,38.68,39.21,39.59,39.97,40.5,41.41,42.63,48.66]
chirp_mass_ky = [0,.003,.015,.027,.012,.003,.025,.06,.09,.25,.44,.60,.68,.67,.66,.78,.87,.95,.84,.63,.39,.17,.105,.11,.11,.097,.05,.01,.003,.005,.001,0]
luminosity_distance_kx = [870,1144,1214,1285,1355,1412,1468,1567,1624,1694,1765,1841,1920,1990,2061,2123,2188,2259,2301,2343,2386,2428,2470,2513,2555,2597,2640,2682,2753,2809,2866,2916,2992,3049,3119,3190,3261,3345,3430,3543,3627,3727,3825,3967,4150,4333,4672,4757,4943]
luminosity_distance_ky = [0,0,.01,.07,.18,.32,.37,.38,.33,.22,.07,.04,.07,.14,.22,.255,.20,.115,.10,.13,.30,.62,.88,.955,.90,.72,.47,.22,.13,.19,.28,.32,.28,.33,.42,.30,.14,.06,.075,.12,.08,.015,.01,.02,.025,.005,.005,.01,0]
dec_kx = [-1.457,-1.065,-1.006,-.947,-.896,-.852,-.793,-.712,-.668,-.617,-.573,-.536,-.507,-.485,-.455,-.426,-.404,-.382,-.36,-.33,-.294,-.257,-.223,-.191,-.162,-.14,-.103,-.062,-.029,.003,.037,.081,.14,.198,.26,.323,.374,.433,.499,.665]
dec_ky = [0,0,.03,.07,.03,.01,.035,.03,.11,.28,.42,.47,.42,.40,.50,.78,.92,.955,.89,.68,.38,.19,.165,.27,.36,.37,.24,.18,.26,.285,.22,.08,.035,.10,.16,.115,.125,.04,.003,0]
ra_kx = [.907,3.626,3.88,4.06,4.26,4.43,4.52,4.63,4.72,4.81,4.86,4.92,4.97,5.05,5.14,5.23,5.355,5.45,5.54,5.61,5.70,5.77,5.88,5.99,6.07,6.167]
ra_ky = [0,0,.022,.018,.08,.055,.08,.2,.38,.72,.88,.945,.85,.62,.54,.54,.48,.70,.755,.55,.28,.22,.295,.31,.40,.50]
theta_jn_kx = [1.351,1.64,1.68,1.694,1.707,1.72,1.732,1.75,1.758,1.77,1.783,1.796,1.81,1.821,1.832,1.848,1.877,1.996]
theta_jn_ky = [0,0,.01,.07,.24,.55,.83,.955,.93,.76,.53,.33,.18,.07,.025,.015,.003,0]
psi_kx = [.015,.115,.169,.243,.329,.393,.467,.52,.585,.632,.681,.713,.755,.798,.851,.894,.93,.979,1.022,1.065,1.118,1.16,1.214,1.271,1.32,1.374,1.42,1.49,1.544,1.598,1.636,1.683,1.726,1.779,1.832,1.886,1.95,2.024,2.12,2.216,2.355,2.483,2.718,2.952,3.10]
psi_ky = [0,.003,.02,.047,.015,.005,.02,.12,.36,.42,.36,.32,.44,.62,.70,.67,.64,.72,.78,.65,.45,.32,.17,.13,.2,.48,.605,.61,.72,.9,.955,.80,.50,.18,.165,.165,.09,.05,.015,.005,.03,.005,.008,.002,.018]
a_1_kx = [.039,.485,.527,.55,.568,.583,.598,.61,.622,.636,.649,.661,.679,.691,.703,.718,.735,.75,.768,.78,.798,.813,.831,.849,.9015]
a_1_ky = [0,0,.015,.05,.11,.22,.39,.455,.39,.34,.50,.80,.95,.78,.45,.13,.07,.16,.24,.24,.21,.12,.03,.003,0]
a_2_kx = [.0034,.021,.041,.065,.085,.098,.115,.13,.143,.155,.169,.182,.199,.212,.225,.242,.252,.269,.286,.302,.319,.339,.363,.396,.416,.436,.456,.475,.503,.536,.583,.6,.62,.637,.648,.664,.684,.704,.724,.744,.824,.844,.868,.904,.97]
a_2_ky = [.115,.12,.08,.07,.09,.22,.45,.50,.44,.38,.52,.88,.955,.82,.58,.46,.50,.62,.685,.62,.44,.21,.16,.09,.09,.12,.08,.025,.01,.003,.012,.025,.2,.36,.42,.33,.23,.10,.025,.003,.003,.035,.055,.025,0]
tilt_1_kx = [1.358,1.89,2.0,2.107,2.239,2.347,2.40,2.43,2.46,2.49,2.517,2.55,2.586,2.616,2.652,2.694,2.72,2.754,2.79,2.82,2.85,2.88,2.915,3.087]
tilt_1_ky = [0,.002,.01,.008,.002,.03,.09,.16,.21,.185,.18,.27,.52,.72,.87,.93,.955,.82,.60,.43,.22,.05,.003,0]
tilt_2_kx = [.52,1.195,1.272,1.36,1.428,1.48,1.532,1.566,1.627,1.67,1.713,1.757,1.8,1.843,1.887,1.93,1.982,2.034,2.068,2.129,2.203,2.258,2.307,2.354,2.423,2.483,2.544,2.587,2.63,2.69,2.777,2.847,2.916,2.96,3.02]
tilt_2_ky = [0,.002,.015,.018,.055,.13,.20,.18,.09,.22,.62,.90,.955,.90,.84,.62,.28,.11,.10,.125,.085,.17,.225,.13,.07,.20,.31,.23,.14,.12,.035,.01,.06,.09,.09]
phi_12_kx = [.06,.22,.347,.474,.6,.71,.857,.985,1.11,1.206,1.304,1.453,1.666,1.836,2.006,2.155,2.24,2.347,2.43,2.496,2.56,2.645,2.73,2.815,2.94,3.11,3.2,3.326,3.496,3.666,3.86,4.03,4.134,4.22,4.304,4.39,4.497,4.62,4.76,4.88,4.985,5.06,5.113,5.2,5.304,5.41,5.54,5.645,5.79,5.94,6.05,6.2]
phi_12_ky = [.003,.02,.12,.26,.315,.28,.14,.095,.13,.17,.13,.02,.005,.02,.065,.075,.19,.58,.85,.885,.82,.73,.70,.58,.48,.55,.51,.32,.12,.08,.05,.12,.36,.68,.81,.70,.40,.12,.065,.25,.70,.92,.955,.80,.50,.40,.60,.70,.65,.735,.62,.335]
phi_jl_kx = [1.414,3.5,3.712,3.817,3.895,3.974,4.04,4.097,4.157,4.223,4.275,4.314,4.38,4.438,4.55,4.616,4.68,4.72,4.773,4.84,4.904,4.996,5.2]
phi_jl_ky = [0,.002,.025,.025,.22,.305,.26,.215,.38,.68,.86,.88,.75,.65,.54,.68,.88,.955,.85,.45,.12,.03,0]
time_jitter_kx = [-2.371,-2.27,-2.117,-1.979,-1.876,-1.756,-1.636,-1.533,-1.447,-1.344,-1.206,-1.12,-1.017,-.948,-.88,-.794,-.69,-.536,-.433,-.33,-.254,-.175,-.089,.065,.254,.375,.478,.615,.718,.821,.89,.993,1.113,1.302,1.44,1.526,1.629,1.732,1.835,1.973,2.058,2.179,2.282,2.333,2.388]
time_jitter_ky = [.045,.06,.108,.085,.045,.02,.05,.19,.48,.595,.47,.31,.19,.235,.296,.20,.095,.06,.14,.31,.37,.28,.11,.017,.065,.055,.14,.47,.58,.68,.61,.28,.098,.17,.125,.22,.42,.46,.375,.08,.04,.22,.655,.874,.96]

# ---------- panel table ----------
panels = [
 ("mass ratio", mass_ratio_body, mass_ratio_tail, mass_ratio_kx, mass_ratio_ky, [.364,.4507,.561],
  (.148,.999), [.2,.4,.6,.8], ["0.2","0.4","0.6","0.8"],
  (.228,.8245), [.30,.45,.60,.75], ["0.30","0.45","0.60","0.75"]),
 ("chirp mass", chirp_mass_body, chirp_mass_tail, chirp_mass_kx, chirp_mass_ky, [32.73,35.79,39.19],
  (24.9,81), [30,45,60,75], ["30","45","60","75"],
  (26.74,48.66), [30,35,40,45], ["30","35","40","45"]),
 ("luminosity distance", luminosity_distance_body, luminosity_distance_tail, luminosity_distance_kx, luminosity_distance_ky, [1409,2541,3566],
  (869,4942), [1000,2000,3000,4000], ["1000","2000","3000","4000"],
  (870,4943), [1000,2000,3000,4000], ["1000","2000","3000","4000"]),
 ("dec", dec_body, dec_tail, dec_kx, dec_ky, [-.789,-.367,.377],
  (-1.515,1.41), [-1.2,-.6,0,.6,1.2], ["\u22121.2","\u22120.6","0.0","0.6","1.2"],
  (-1.457,.665), [-1,-.5,0,.5], ["\u22121.0","\u22120.5","0.0","0.5"]),
 ("ra", ra_body, ra_tail, ra_kx, ra_ky, [4.29,5.23,6.16],
  (.01,6.285), [1.5,3,4.5,6], ["1.5","3.0","4.5","6.0"],
  (.907,6.167), [1.5,3,4.5,6], ["1.5","3.0","4.5","6.0"]),
 ("theta jn", theta_jn_body, theta_jn_tail, theta_jn_kx, theta_jn_ky, [1.72,1.755,1.806],
  (.51,3.04), [.6,1.2,1.8,2.4,3.0], ["0.6","1.2","1.8","2.4","3.0"],
  (1.351,1.996), [1.5,1.65,1.8,1.95], ["1.50","1.65","1.80","1.95"]),
 ("psi", psi_body, psi_tail, psi_kx, psi_ky, [.63,1.15,1.91],
  (.01,3.11), [.8,1.6,2.4], ["0.8","1.6","2.4"],
  (.015,3.10), [.8,1.6,2.4], ["0.8","1.6","2.4"]),
 ("a 1", a_1_body, a_1_tail, a_1_kx, a_1_ky, [.5665,.674,.804],
  (.008,.977), [.2,.4,.6,.8], ["0.2","0.4","0.6","0.8"],
  (.039,.9015), [.2,.4,.6,.8], ["0.2","0.4","0.6","0.8"]),
 ("a 2", a_2_body, a_2_tail, a_2_kx, a_2_ky, [.006,.2495,.691],
  (.005,.975), [.2,.4,.6,.8], ["0.2","0.4","0.6","0.8"],
  (.0034,.97), [.2,.4,.6,.8], ["0.2","0.4","0.6","0.8"]),
 ("tilt 1", tilt_1_body, tilt_1_tail, tilt_1_kx, tilt_1_ky, [2.393,2.70,2.82],
  (.155,3.06), [.6,1.2,1.8,2.4,3.0], ["0.6","1.2","1.8","2.4","3.0"],
  (1.358,3.087), [1.6,2.0,2.4,2.8], ["1.6","2.0","2.4","2.8"]),
 ("tilt 2", tilt_2_body, tilt_2_tail, tilt_2_kx, tilt_2_ky, [1.53,1.885,2.97],
  (.06,3.015), [.6,1.2,1.8,2.4,3.0], ["0.6","1.2","1.8","2.4","3.0"],
  (.52,3.02), [.6,1.2,1.8,2.4,3.0], ["0.6","1.2","1.8","2.4","3.0"]),
 ("phi 12", phi_12_body, phi_12_tail, phi_12_kx, phi_12_ky, [.525,4.285,6.03],
  (.03,6.2), [1.5,3,4.5,6], ["1.5","3.0","4.5","6.0"],
  (.06,6.2), [1.5,3,4.5,6], ["1.5","3.0","4.5","6.0"]),
 ("phi jl", phi_jl_body, phi_jl_tail, phi_jl_kx, phi_jl_ky, [3.98,4.44,4.785],
  (.02,6.13), [1.5,3,4.5,6], ["1.5","3.0","4.5","6.0"],
  (1.414,5.2), [1.6,2.4,3.2,4.0,4.8], ["1.6","2.4","3.2","4.0","4.8"]),
 ("time jitter", time_jitter_body, time_jitter_tail, time_jitter_kx, time_jitter_ky, [-2.055,.71,2.37],
  (-2.43,2.415), [-2,-1,0,1,2], ["\u22122","\u22121","0","1","2"],
  (-2.371,2.388), [-2,-1,0,1,2], ["\u22122","\u22121","0","1","2"]),
]

# ---------- layout constants: the photographed page is 4096 px tall, so the 4200 px design is fitted to it ----------
W, H = 1200, 4096
FIT = H / 4200
FONT = "Liberation Sans"
GRID = "#bdbdbd"
FRAME = "#808080"
TICK = 16
LABEL = 19.5
fig = go.Figure()
layout = {}

def common(rng, tv, tt, title, size=LABEL):
    return dict(range=list(rng), tickvals=tv, ticktext=tt, showgrid=True, gridcolor=GRID, gridwidth=1.2,
                zeroline=False, showline=True, linecolor=FRAME, linewidth=1.5, mirror=True,
                tickfont=dict(family=FONT, size=TICK, color="#111"),
                title=dict(text=title, font=dict(family=FONT, size=size, color="#111")))

for k, (name, body, tail, kx, ky, q, yr, yv, yt, xr, xv, xt) in enumerate(panels):
    top = (18.3 + 300 * k) * FIT
    bottom = (18.3 + 300 * k + 214) * FIT
    dom_y = [1 - bottom / H, 1 - top / H]
    a, b = 2 * k + 1, 2 * k + 2
    picks = [x_body[i * len(x_body) // len(body)] for i in range(len(body))]
    xs = picks + x_tail[:len(tail)]
    ys = body + tail[:len(x_tail)]
    cs = [0.0 if v < 11.5 else 0.05 for v in picks] + shade_tail[:len(tail)]
    fig.add_trace(go.Scatter(x=xs, y=ys, mode="markers", xaxis=f"x{a}", yaxis=f"y{a}", showlegend=False,
                             marker=dict(size=3.9, color=cs, colorscale="Plasma", cmin=0, cmax=1, line=dict(width=0))))
    fig.add_trace(go.Scatter(x=kx, y=ky, mode="lines", xaxis=f"x{b}", yaxis=f"y{b}", showlegend=False,
                             fill="tozeroy", fillcolor="rgba(0,0,255,0.6)",
                             line=dict(color="rgba(30,30,235,0.75)", width=1.3, shape="spline", smoothing=0.8)))
    for v in q:
        fig.add_trace(go.Scatter(x=[v, v], y=[0, 1], mode="lines", xaxis=f"x{b}", yaxis=f"y{b}", showlegend=False,
                                 line=dict(color="#0000ff", width=3, dash="10px,3px")))
    xl = common((0, 17.45), [0, 4, 8, 12, 16], ["0", "4", "8", "12", "16"], "\u2212ln <i>X</i>", size=21)
    xl.update(domain=[91 / W, 621 / W], anchor=f"y{a}", ticks="outside", ticklen=6, tickcolor="rgba(0,0,0,0)")
    xl["title"]["standoff"] = 4
    yl = common(yr, yv, yt, name)
    yl.update(domain=dom_y, anchor=f"x{a}", ticks="outside", ticklen=5, tickcolor="#444", tickwidth=1.2)
    yl["title"]["standoff"] = 8
    layout[f"xaxis{a}"], layout[f"yaxis{a}"] = xl, yl
    xr_ = common(xr, xv, xt, name)
    xr_.update(domain=[644.4 / W, 1174.4 / W], anchor=f"y{b}", ticks="outside", ticklen=6, tickcolor="rgba(0,0,0,0)")
    xr_["title"]["standoff"] = 4
    yr_ = dict(domain=dom_y, anchor=f"x{b}", range=[0, 1], showgrid=False, zeroline=False, showticklabels=False,
               ticks="", showline=True, linecolor=FRAME, linewidth=1.5, mirror=True)
    layout[f"xaxis{b}"], layout[f"yaxis{b}"] = xr_, yr_

last_top = (18.3 + 300 * 13) * FIT
last_bottom = last_top + 214 * FIT
ann_font = dict(family=FONT, size=TICK, color="#111")
annotations = [
    dict(text="1e\u22124", xref="paper", yref="paper", x=91 / W, y=1 - last_top / H, xanchor="left", yanchor="bottom",
         showarrow=False, font=ann_font),
    dict(text="1e\u22124", xref="paper", yref="paper", x=1174.4 / W, y=1 - last_bottom / H, xanchor="right", yanchor="top",
         showarrow=False, font=ann_font, yshift=-26),
]
fig.update_layout(width=W, height=H, margin=dict(l=0, r=0, t=0, b=0), paper_bgcolor="white", plot_bgcolor="white",
                  showlegend=False, annotations=annotations, font=dict(family=FONT), **layout)
fig.write_html("out.html", config={"displayModeBar": False}, post_script="document.body.style.margin='0';")
